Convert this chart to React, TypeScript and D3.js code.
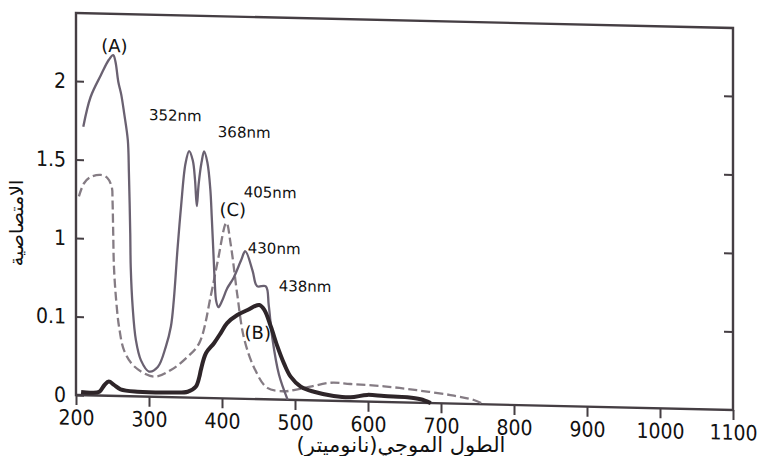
import React, { useEffect, useRef } from 'react';
import * as d3 from 'd3';

// wavelength (nm) / absorbance
const curveA_nm = [210, 220, 234, 245, 251, 254, 258, 262, 266, 271, 272.5, 274.3, 275, 277.6, 282, 289, 300, 312, 323, 330, 334, 339, 344, 350, 355, 360, 363, 365.5, 368, 372, 375.5, 380, 384, 386, 388, 390, 392, 395, 400, 407, 416, 426, 432, 442, 448, 460, 464, 469, 478, 490];
const curveA_abs = [1.71, 1.9, 2.04, 2.14, 2.17, 2.13, 2.0, 1.92, 1.8, 1.63, 1.42, 1.04, 0.82, 0.57, 0.36, 0.23, 0.16, 0.19, 0.32, 0.45, 0.62, 0.94, 1.22, 1.49, 1.57, 1.51, 1.39, 1.22, 1.36, 1.5, 1.57, 1.5, 1.33, 1.15, 0.95, 0.75, 0.62, 0.58, 0.62, 0.7, 0.77, 0.88, 0.94, 0.815, 0.72, 0.72, 0.6, 0.39, 0.16, 0];

const curveC_nm = [204, 211, 220, 234, 243, 249, 250, 251, 252, 255, 259, 266, 280, 307, 330, 353, 369, 385, 394, 406, 412, 421, 430, 444, 462, 485, 500, 521, 549, 576, 622, 667, 713, 745, 757];
const curveC_abs = [1.265, 1.35, 1.39, 1.405, 1.387, 1.33, 1.25, 1.03, 0.82, 0.61, 0.44, 0.29, 0.19, 0.128, 0.173, 0.26, 0.35, 0.66, 0.87, 1.12, 0.98, 0.66, 0.39, 0.2, 0.073, 0.054, 0.065, 0.087, 0.115, 0.11, 0.1, 0.08, 0.054, 0.026, 0.004];

const curveB_nm = [207, 220, 232, 239, 245, 252, 261, 284, 330, 353, 364, 369, 371, 378, 389, 398, 407, 421, 435, 451, 458, 467, 476, 485, 494, 508, 526, 553, 576, 599, 622, 654, 672, 686];
const curveB_abs = [0.02, 0.017, 0.024, 0.068, 0.09, 0.07, 0.043, 0.03, 0.03, 0.037, 0.07, 0.134, 0.177, 0.285, 0.35, 0.414, 0.48, 0.533, 0.566, 0.6, 0.57, 0.463, 0.337, 0.23, 0.148, 0.085, 0.055, 0.031, 0.025, 0.043, 0.038, 0.034, 0.023, 0];

const xTicks = [200, 300, 400, 500, 600, 700, 800, 900, 1000, 1100];
const yTickValues = [0, 0.5, 1, 1.5, 2];
const yTickLabels = ['0', '0.1', '1', '1.5', '2'];

const peakLabels = [
  { text: '(A)', nm: 252.7, v: 2.19, big: true },
  { text: '352nm', nm: 300, v: 1.762, big: false },
  { text: '368nm', nm: 394.3, v: 1.664, big: false },
  { text: '405nm', nm: 429.8, v: 1.285, big: false },
  { text: '(C)', nm: 414.8, v: 1.163, big: true },
  { text: '430nm', nm: 435.3, v: 0.929, big: false },
  { text: '438nm', nm: 477.7, v: 0.692, big: false },
  { text: '(B)', nm: 449, v: 0.383, big: true },
];

const W = 760;
const H = 456;

const App = () => {
  const svgRef = useRef<SVGSVGElement>(null);

  useEffect(() => {
    const svg = d3.select(svgRef.current);
    svg.selectAll('*').remove();

    const left = 76;
    const x = d3.scaleLinear().domain([200, 1100]).range([0, 657]);
    const y = d3.scaleLinear().domain([0, 2.433]).range([395, 13]);
    const frameCol = '#453e43';

    // the scan is slightly tilted: shear the plot
    const g = svg.append('g').attr('transform', `translate(${left},0) skewY(1.306)`);

    g.append('rect')
      .attr('x', x(200))
      .attr('y', y(2.433))
      .attr('width', x(1100) - x(200))
      .attr('height', y(0) - y(2.433))
      .attr('fill', 'none')
      .attr('stroke', frameCol)
      .attr('stroke-width', 2.4);

    const xAxis = g.append('g')
      .attr('transform', `translate(0,${y(0)})`)
      .call(d3.axisBottom(x).tickValues(xTicks).tickSize(10).tickPadding(5).tickFormat(d3.format('d')));
    const yAxis = g.append('g')
      .call(d3.axisLeft(y).tickValues(yTickValues).tickSizeInner(-8).tickSizeOuter(0).tickPadding(10)
        .tickFormat((d, i) => yTickLabels[i]));
    const yAxisR = g.append('g')
      .attr('transform', `translate(${x(1100)},0)`)
      .call(d3.axisRight(y).tickValues(yTickValues.slice(1)).tickSizeInner(-9).tickSizeOuter(0).tickFormat(() => ''));

    [xAxis, yAxis, yAxisR].forEach((ax) => {
      ax.select('.domain').remove();
      ax.selectAll('line').attr('stroke', frameCol).attr('stroke-width', 2);
      ax.selectAll('text')
        .attr('fill', '#111')
        .style('font-family', '"DejaVu Sans Condensed", "DejaVu Sans", sans-serif')
        .style('font-size', '21px');
    });

    const line = d3.line<[number, number]>()
      .x((d) => x(d[0]))
      .y((d) => y(d[1]))
      .curve(d3.curveCatmullRom.alpha(0.5));

    const zip = (a: number[], b: number[]) => a.map((v, i) => [v, b[i]] as [number, number]);

    g.append('path')
      .datum(zip(curveC_nm, curveC_abs))
      .attr('d', line)
      .attr('fill', 'none')
      .attr('stroke', '#857c84')
      .attr('stroke-width', 2.3)
      .attr('stroke-dasharray', '9,4');

    g.append('path')
      .datum(zip(curveA_nm, curveA_abs))
      .attr('d', line)
      .attr('fill', 'none')
      .attr('stroke', '#6a6171')
      .attr('stroke-width', 2.3)
      .attr('stroke-linejoin', 'round');

    g.append('path')
      .datum(zip(curveB_nm, curveB_abs))
      .attr('d', line)
      .attr('fill', 'none')
      .attr('stroke', '#2e2529')
      .attr('stroke-width', 4)
      .attr('stroke-linejoin', 'round');

    g.selectAll('.peak')
      .data(peakLabels)
      .enter()
      .append('text')
      .attr('class', 'peak')
      .attr('x', (d) => x(d.nm))
      .attr('y', (d) => y(d.v))
      .attr('text-anchor', (d) => (d.big ? 'middle' : 'start'))
      .style('font-family', '"DejaVu Sans", sans-serif')
      .style('font-size', (d) => (d.big ? '18px' : '15px'))
      .attr('fill', '#111')
      .text((d) => d.text);

    svg.append('text')
      .attr('transform', 'translate(23,223) rotate(-90)')
      .attr('text-anchor', 'middle')
      .style('font-family', '"DejaVu Sans", sans-serif')
      .style('font-size', '19px')
      .attr('fill', '#111')
      .text('الامتصاصية');

    svg.append('text')
      .attr('x', 401)
      .attr('y', 452)
      .attr('text-anchor', 'middle')
      .style('font-family', '"DejaVu Sans", sans-serif')
      .style('font-size', '21px')
      .attr('fill', '#111')
      .text('الطول الموجي(نانوميتر)');
  }, []);

  return (
    <svg ref={svgRef} width={W} height={H} style={{ position: 'absolute', left: 0, top: 0, background: '#fff' }} />
  );
};

export default App;
